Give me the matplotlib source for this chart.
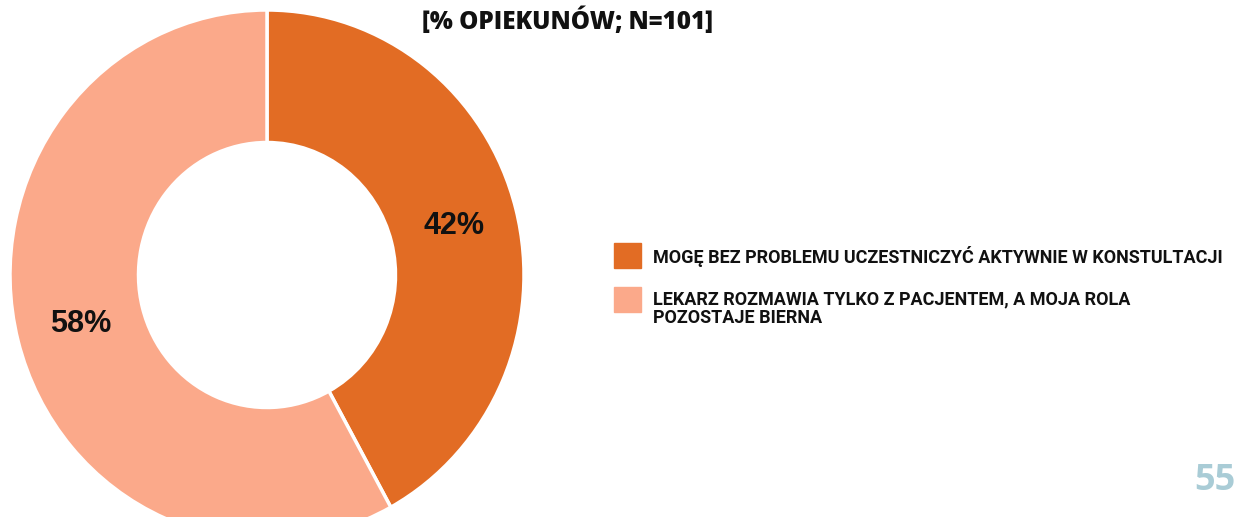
import matplotlib.pyplot as plt
from matplotlib.patches import Rectangle

# data
categories = ['MOGĘ BEZ PROBLEMU UCZESTNICZYĆ AKTYWNIE W KONSTULTACJI',
              'LEKARZ ROZMAWIA TYLKO Z PACJENTEM, A MOJA ROLA\nPOZOSTAJE BIERNA']
values = [42, 58]
colors = ['#E26C24', '#FBA98A']
title = '[% OPIEKUNÓW; N=101]'
page_no = '55'

W, H = 1238, 517
fig = plt.figure(figsize=(W / 100, H / 100), dpi=100)


def fx(px):
    return px / W


def fy(py):
    # pixel row from the top -> figure fraction
    return 1 - py / H


# donut: centre about (267, 275) px, radius about 257 x 265 px
ax = fig.add_axes([fx(10), fy(275 + 265), 514 / W, 530 / H])
wedges, _, pct = ax.pie(values, colors=colors, startangle=90, counterclock=False,
                        wedgeprops=dict(width=0.5, edgecolor='white', linewidth=2.5),
                        autopct=lambda p: f'{p:.0f}%', pctdistance=0.75,
                        textprops=dict(fontsize=22, fontweight='bold', color='#111111',
                                       family='Liberation Sans'))
ax.set_aspect('auto')
ax.set_xlim(-1, 1)
ax.set_ylim(-1, 1)

fig.text(fx(568), fy(21), title, ha='center', va='center', fontsize=17.5,
         fontweight='heavy', family='Open Sans', color='#111111')

# legend drawn by hand
leg_y = [243, 287]
for y, lab, c in zip(leg_y, categories, colors):
    fig.add_artist(Rectangle((fx(614), fy(y + 25)), 27 / W, 25 / H, color=c,
                             transform=fig.transFigure))
    fig.text(fx(653), fy(y + 3), lab, ha='left', va='top', fontsize=13,
             fontweight='bold', family='Roboto', color='#111111', linespacing=1.1)

fig.text(fx(1236), fy(481), page_no, ha='right', va='center', fontsize=26,
         fontweight='bold', family='Open Sans', color='#A9CCD6')

fig.savefig('out.png', dpi=100)
